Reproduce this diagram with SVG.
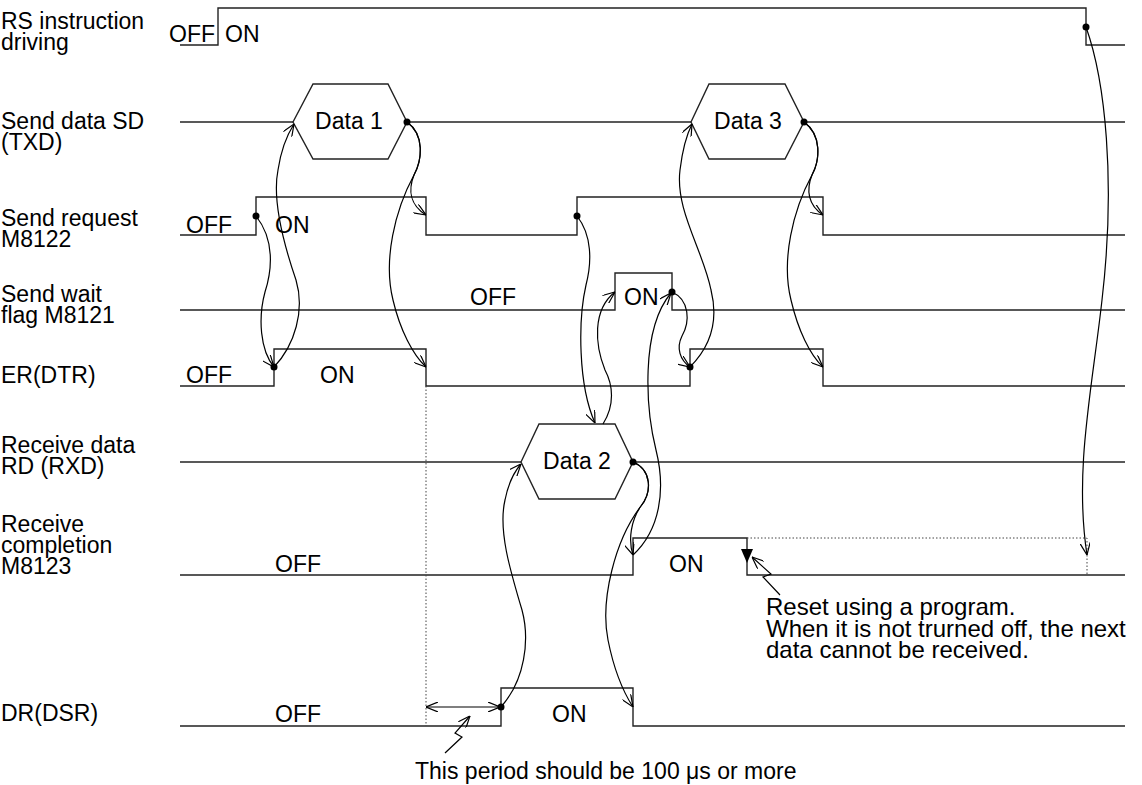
<svg xmlns="http://www.w3.org/2000/svg" width="1142" height="785" viewBox="0 0 1142 785">
<style>
text{font-family:"Liberation Sans",Arial,sans-serif;font-size:23px;fill:#000}
.note{font-size:24px}
.sig{fill:none;stroke:#222;stroke-width:1.4}
.hex{fill:#fff;stroke:#222;stroke-width:1.4}
.c{fill:none;stroke:#000;stroke-width:1.2;marker-end:url(#ah)}
.dot{fill:#000}
.dash{fill:none;stroke:#444;stroke-width:1;stroke-dasharray:1.5,2}
.mid{text-anchor:middle}
.end{text-anchor:end}
</style>
<defs>
<marker id="ah" viewBox="0 0 12 10" refX="12" refY="5" markerWidth="12" markerHeight="10" markerUnits="userSpaceOnUse" orient="auto">
<path d="M0,0 L12,5 L0,10" fill="none" stroke="#000" stroke-width="1.2"/>
</marker>
<marker id="as" viewBox="0 0 12 10" refX="0" refY="5" markerWidth="12" markerHeight="10" markerUnits="userSpaceOnUse" orient="auto">
<path d="M12,0 L0,5 L12,10" fill="none" stroke="#000" stroke-width="1.2"/>
</marker>
</defs>

<g id="rs">
<text x="1" y="29">RS instruction</text>
<text x="1" y="50">driving</text>
<polyline class="sig" points="180,45 218,45 218,8 1086,8 1086,45 1125,45"/>
<text class="end" x="215" y="42">OFF</text>
<text x="225" y="42">ON</text>
</g>

<g id="sd">
<text x="1" y="129">Send data SD</text>
<text x="1" y="150">(TXD)</text>
<line class="sig" x1="180" y1="122" x2="293" y2="122"/>
<line class="sig" x1="407" y1="122" x2="691" y2="122"/>
<line class="sig" x1="804" y1="122" x2="1125" y2="122"/>
<polygon class="hex" points="293,122 313,84 388,84 407,122 388,159 313,159"/>
<text class="mid" x="349" y="129">Data 1</text>
<polygon class="hex" points="691,122 709,84 785,84 804,122 785,159 709,159"/>
<text class="mid" x="748" y="129">Data 3</text>
</g>

<g id="sr">
<text x="1" y="226">Send request</text>
<text x="1" y="247">M8122</text>
<polyline class="sig" points="180,235 256,235 256,197 426,197 426,235 577,235 577,197 823,197 823,235 1125,235"/>
<text x="186" y="233">OFF</text>
<text x="275" y="233">ON</text>
</g>

<g id="sw">
<text x="1" y="302">Send wait</text>
<text x="1" y="323">flag M8121</text>
<polyline class="sig" points="180,310 615,310 615,273 672,273 672,310 1125,310"/>
<text x="470" y="305">OFF</text>
<text x="624" y="305">ON</text>
</g>

<g id="er">
<text x="1" y="383">ER(DTR)</text>
<polyline class="sig" points="180,386 274,386 274,349 426,349 426,386 690,386 690,349 823,349 823,386 1125,386"/>
<text x="186" y="383">OFF</text>
<text x="320" y="383">ON</text>
</g>

<g id="rd">
<text x="1" y="453">Receive data</text>
<text x="1" y="474">RD (RXD)</text>
<line class="sig" x1="180" y1="462" x2="521" y2="462"/>
<line class="sig" x1="633" y1="462" x2="1125" y2="462"/>
<polygon class="hex" points="521,462 539,424 615,424 633,462 615,499 539,499"/>
<text class="mid" x="577" y="469">Data 2</text>
</g>

<g id="rc">
<text x="1" y="532">Receive</text>
<text x="1" y="553">completion</text>
<text x="1" y="574">M8123</text>
<polyline class="sig" points="180,575 633,575 633,538 747,538 747,575 1125,575"/>
<polyline class="dash" points="747,538 1087,538 1087,575"/>
<polygon points="741,549 753,549 747,563" fill="#000"/>
<text x="275" y="572">OFF</text>
<text x="669" y="572">ON</text>
<text class="note" x="766" y="615">Reset using a program.</text>
<text class="note" x="766" y="637">When it is not trurned off, the next</text>
<text class="note" x="766" y="658">data cannot be received.</text>
</g>

<g id="dr">
<text x="1" y="721">DR(DSR)</text>
<polyline class="sig" points="180,726 501,726 501,688 633,688 633,726 1125,726"/>
<text x="275" y="722">OFF</text>
<text x="552" y="722">ON</text>
<text x="415" y="779">This period should be 100 μs or more</text>
</g>

<g id="connectors">
<line class="dash" x1="426" y1="386" x2="426" y2="726"/>
<line class="c" x1="426" y1="707" x2="500" y2="707" marker-start="url(#as)"/>
<polyline class="c" points="445,753 462,737 455,733 470,716"/>
<polyline class="c" points="780,595 763,577 771,574 752,557"/>

<path class="c" d="M256,216 C275,240 272,270 265,292 C258,318 260,350 274,367"/>
<path class="c" d="M274,367 C295,345 305,310 296,280 C284,245 272,200 278,170 C281,150 287,135 294,124"/>
<path class="c" d="M407,122 C425,135 422,160 414,175 C408,190 410,205 426,215"/>
<path class="c" d="M407,122 C425,135 422,160 414,175 C395,210 383,260 393,300 C400,330 413,355 426,367"/>

<path class="c" d="M577,216 C592,235 592,262 586,285 C578,320 578,385 595,423"/>
<path class="c" d="M603,424 C615,405 613,385 605,370 C595,345 592,310 615,292"/>
<path class="c" d="M672,292 C690,300 690,322 682,336 C676,348 680,360 690,367"/>
<path class="c" d="M690,367 C712,345 718,318 711,290 C703,250 675,210 680,170 C683,145 688,132 692,124"/>

<path class="c" d="M804,122 C822,135 820,160 812,175 C806,190 808,205 823,215"/>
<path class="c" d="M804,122 C822,135 820,160 812,175 C793,210 781,260 791,300 C798,330 810,355 823,367"/>

<path class="c" d="M633,462 C652,470 652,492 641,506 C631,520 628,540 633,555"/>
<path class="c" d="M633,462 C652,470 652,492 641,506 C615,540 600,600 608,640 C614,670 622,690 633,707"/>
<path class="c" d="M633,555 C660,530 666,490 656,450 C646,410 640,330 671,293"/>
<path class="c" d="M501,707 C525,680 530,640 522,610 C510,570 498,530 505,500 C508,485 514,472 521,464"/>
<path class="c" d="M1086,27 C1105,80 1116,180 1102,300 C1092,390 1074,470 1087,555"/>
</g>

<g id="dots">
<circle class="dot" cx="1086" cy="27" r="3.5"/>
<circle class="dot" cx="407" cy="122" r="3.5"/>
<circle class="dot" cx="804" cy="122" r="3.5"/>
<circle class="dot" cx="256" cy="216" r="3.5"/>
<circle class="dot" cx="577" cy="216" r="3.5"/>
<circle class="dot" cx="672" cy="292" r="3.5"/>
<circle class="dot" cx="274" cy="367" r="3.5"/>
<circle class="dot" cx="690" cy="367" r="3.5"/>
<circle class="dot" cx="633" cy="462" r="3.5"/>
<circle class="dot" cx="501" cy="707" r="3.5"/>
</g>
</svg>
